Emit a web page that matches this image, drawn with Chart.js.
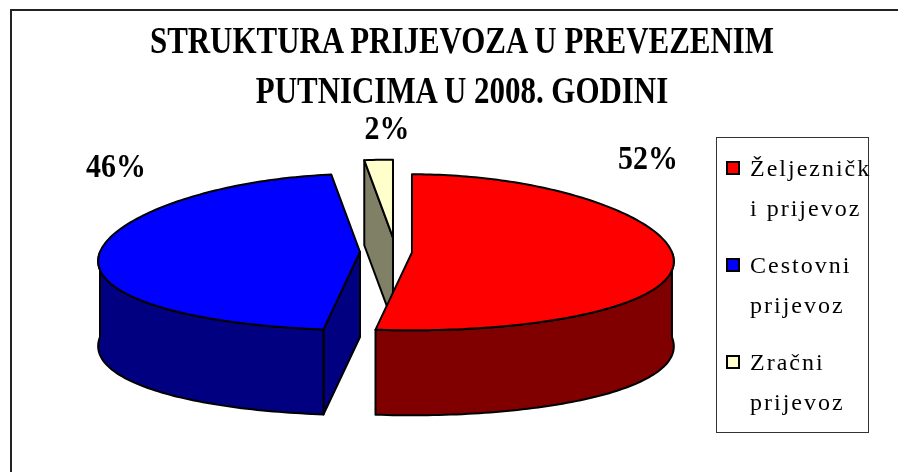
<!DOCTYPE html>
<html>
<head>
<meta charset="utf-8">
<title>Struktura prijevoza 2008</title>
<script src="https://cdn.jsdelivr.net/npm/chart.js"></script>
<style>
  body { margin: 0; background: #fff; }
  #wrap { position: relative; width: 898px; height: 472px; overflow: hidden; }
  #frame { position: absolute; left: 10px; top: 9px; width: 1000px; height: 1000px;
           border-left: 2px solid #222; border-top: 2px solid #222; }
  #chart { position: absolute; left: 0; top: 0; }
  .tline { position: absolute; left: 462px; font: bold 38px "Liberation Serif", "Times New Roman", serif;
           line-height: 38px; white-space: nowrap; transform: translateX(-50%) scaleX(0.814); }
  #legend { position: absolute; left: 716px; top: 137px; width: 153px; height: 296px; box-sizing: border-box;
            border: 1px solid #333; padding-top: 10px; font: 24px "Liberation Serif", "Times New Roman", serif;
            letter-spacing: 2px; }
  .item { position: relative; padding-left: 33px; margin-bottom: 17px; line-height: 40px; white-space: nowrap; }
  .swatch { position: absolute; left: 9px; top: 13px; width: 10px; height: 10px; border: 2px solid #000; }
</style>
</head>
<body>
<div id="wrap">
  <div id="frame"></div>
  <canvas id="chart" width="898" height="472"></canvas>
  <div id="title"></div>
  <div id="legend"></div>
</div>
<script>
// ====== DATA ======
const labels = ['Željeznički prijevoz', 'Cestovni prijevoz', 'Zračni prijevoz'];
const shares = [52, 46, 2];
const legendLines = [['Željezničk', 'i prijevoz'], ['Cestovni', 'prijevoz'], ['Zračni', 'prijevoz']];
const titleLines = ['STRUKTURA PRIJEVOZA U PREVEZENIM', 'PUTNICIMA U 2008. GODINI'];

// ====== STYLE ======
const topColors = ['#ff0000', '#0000ff', '#ffffcc'];
const sideColors = ['#800000', '#000080', '#808066'];
const explode = [16, 36, 48];
const labelSpots = [[648, 169], [116, 177], [387, 139]]; // baseline centres of the % labels


// ====== 3D PIE HELPERS ======
function project(s, t, rr, dz, o) {
  // squash the circle into a tilted ellipse, front a bit wider than back
  return [
    s.cx + rr * Math.cos(t) * (1 + o.persp * Math.sin(t)),
    s.cy + rr * Math.sin(t) * o.tilt + dz
  ];
}

function arcPoints(s, from, to, dz, o) {
  const n = Math.max(2, Math.ceil(Math.abs(to - from) / 0.02));
  const pts = [];
  for (let k = 0; k <= n; k++) pts.push(project(s, from + (to - from) * k / n, s.r, dz, o));
  return pts;
}

function paint(ctx, pts, fill) {
  ctx.beginPath();
  pts.forEach((p, i) => i ? ctx.lineTo(p[0], p[1]) : ctx.moveTo(p[0], p[1]));
  ctx.closePath();
  ctx.fillStyle = fill;
  ctx.fill();
  ctx.stroke();
}

function drawSlice(ctx, s, o) {
  const c = [s.cx, s.cy];
  const cb = [s.cx, s.cy + o.depth];

  // radial side faces that look towards the viewer
  if (Math.cos(s.a0) < -1e-6) {
    paint(ctx, [c, project(s, s.a0, s.r, 0, o), project(s, s.a0, s.r, o.depth, o), cb], s.side);
  }
  if (Math.cos(s.a1) > 1e-6) {
    paint(ctx, [c, project(s, s.a1, s.r, 0, o), project(s, s.a1, s.r, o.depth, o), cb], s.side);
  }

  // outer wall (front half only)
  const lo = Math.max(s.a0, 0);
  const hi = Math.min(s.a1, Math.PI);
  if (hi > lo) {
    paint(ctx, arcPoints(s, lo, hi, 0, o).concat(arcPoints(s, hi, lo, o.depth, o)), s.side);
  }

  // top face
  paint(ctx, [c].concat(arcPoints(s, s.a0, s.a1, 0, o)), s.top);
}

const pie3d = {
  id: 'pie3d',
  beforeDatasetsDraw(chart, args, opts) {
    const ctx = chart.ctx;
    const meta = chart.getDatasetMeta(0);

    const slices = meta.data.map((arc, i) => {
      const mid = (arc.startAngle + arc.endAngle) / 2;
      const off = arc.options.offset || 0;
      return {
        cx: arc.x + Math.cos(mid) * off,
        cy: arc.y + Math.sin(mid) * off * opts.tilt,
        a0: arc.startAngle,
        a1: arc.endAngle,
        r: arc.outerRadius,
        mid: mid,
        top: arc.options.backgroundColor,
        side: opts.sideColors[i]
      };
    });

    // back slices first
    slices.sort((a, b) => Math.sin(a.mid) - Math.sin(b.mid));

    ctx.save();
    ctx.lineWidth = 2;
    ctx.lineJoin = 'round';
    ctx.strokeStyle = '#000';
    slices.forEach(s => drawSlice(ctx, s, opts));
    ctx.restore();
    return false; // skip the flat pie
  },
  afterDraw(chart, args, opts) {
    const ctx = chart.ctx;
    const data = chart.data.datasets[0].data;
    const total = data.reduce((a, b) => a + b, 0);

    ctx.save();
    ctx.font = opts.labelFont;
    ctx.fillStyle = '#000';
    ctx.textAlign = 'center';
    ctx.textBaseline = 'alphabetic';
    data.forEach((v, i) => {
      const [x, y] = opts.labelSpots[i];
      ctx.save();
      ctx.translate(x, y);
      ctx.scale(opts.labelSqueeze, 1);
      ctx.fillText(Math.round(v / total * 100) + '%', 0, 0);
      ctx.restore();
    });
    ctx.restore();
  }
};


// ====== CHART ======
const myChart = new Chart(document.getElementById('chart'), {
  type: 'pie',
  data: {
    labels: labels,
    datasets: [{
      data: shares,
      backgroundColor: topColors,
      offset: explode,
      hoverOffset: 0,
      borderWidth: 0
    }]
  },
  options: {
    responsive: false,
    animation: false,
    events: [],
    radius: 260,
    layout: { padding: { left: 0, right: 106, top: 32, bottom: 0 } },
    plugins: {
      legend: { display: false },
      title: { display: false },
      tooltip: { enabled: false },
      pie3d: {
        tilt: 0.3,
        persp: 0.12,
        depth: 85,
        sideColors: sideColors,
        labelSpots: labelSpots,
        labelFont: 'bold 34px "Liberation Serif", "Times New Roman", serif',
        labelSqueeze: 0.88
      }
    }
  },
  plugins: [pie3d]
});


// ====== TITLE & LEGEND ======
const titleBox = document.getElementById('title');
titleLines.forEach((line, i) => {
  const div = document.createElement('div');
  div.className = 'tline';
  div.style.top = (21 + i * 50) + 'px';
  div.textContent = line;
  titleBox.appendChild(div);
});

const legendBox = document.getElementById('legend');
labels.forEach((label, i) => {
  const item = document.createElement('div');
  item.className = 'item';
  item.title = label;
  item.innerHTML = `<span class="swatch" style="background:${topColors[i]}"></span>` +
    legendLines[i].map(t => `<div>${t}</div>`).join('');
  legendBox.appendChild(item);
});
</script>
</body>
</html>
